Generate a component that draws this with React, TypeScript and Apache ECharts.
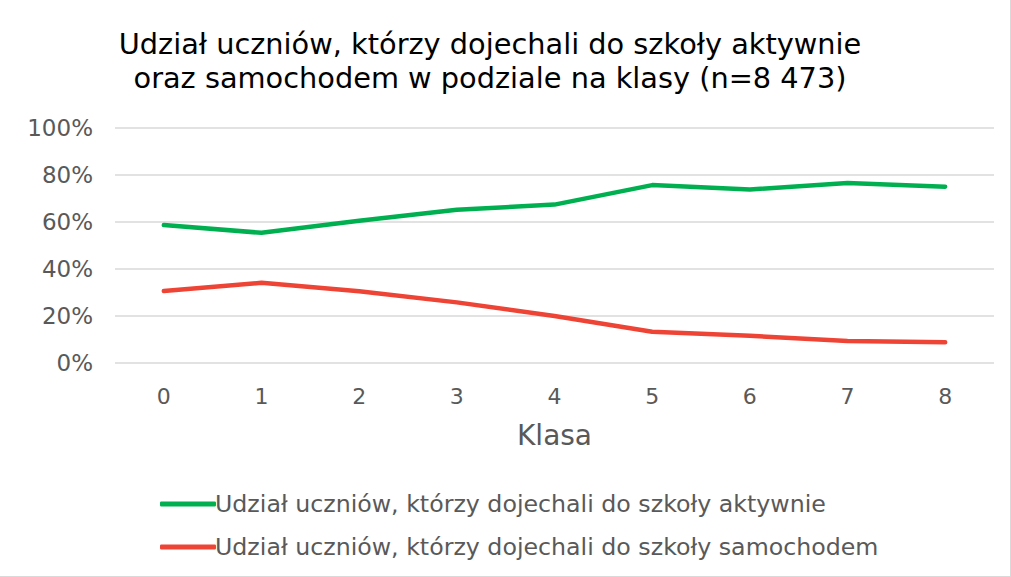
import React, { useEffect, useRef } from "react";
import * as echarts from "echarts";

const categories = ["0", "1", "2", "3", "4", "5", "6", "7", "8"];
const activeShare = [58.7, 55.4, 60.5, 65.2, 67.4, 75.7, 73.8, 76.6, 75.0];
const carShare = [30.6, 34.1, 30.5, 25.8, 20.0, 13.3, 11.6, 9.4, 8.8];
const seriesNames = [
  "Udział uczniów, którzy dojechali do szkoły aktywnie",
  "Udział uczniów, którzy dojechali do szkoły samochodem",
];
const titleText = "Udział uczniów, którzy dojechali do szkoły aktywnie\noraz samochodem w podziale na klasy (n=8 473)";

export default function App() {
  const ref = useRef<HTMLDivElement>(null);
  useEffect(() => {
    if (!ref.current) return;
    const chart = echarts.init(ref.current, undefined, { renderer: "svg" });
    const font = "'DejaVu Sans', sans-serif";
    chart.setOption({
      animation: false,
      backgroundColor: "#ffffff",
      textStyle: { fontFamily: font },
      title: {
        text: titleText,
        left: 485,
        top: 22,
        textAlign: "center",
        textStyle: {
          fontFamily: font,
          fontSize: 28.8,
          lineHeight: 34,
          fontWeight: "normal",
          color: "#000000",
        },
      },
      legend: {
        orient: "vertical",
        left: 155,
        top: 487,
        itemWidth: 56,
        itemHeight: 5,
        itemGap: 19,
        icon: "roundRect",
        textStyle: { fontFamily: font, fontSize: 23.7, color: "#595959", padding: [0, 0, 0, -6] },
        data: seriesNames,
      },
      grid: { left: 115, right: 16, top: 128, bottom: 213 },
      xAxis: {
        type: "category",
        data: categories,
        boundaryGap: true,
        axisLine: { show: false },
        axisTick: { show: false },
        axisLabel: { fontFamily: font, fontSize: 22, color: "#595959", margin: 22 },
        name: "Klasa",
        nameLocation: "middle",
        nameGap: 58,
        nameTextStyle: { fontFamily: font, fontSize: 28, color: "#595959" },
      },
      yAxis: {
        type: "value",
        min: 0,
        max: 100,
        interval: 20,
        axisLine: { show: false },
        axisTick: { show: false },
        axisLabel: {
          fontFamily: font,
          fontSize: 23,
          color: "#595959",
          margin: 22,
          formatter: "{value}%",
        },
        splitLine: { lineStyle: { color: "#d9d9d9", width: 1.5 } },
      },
      series: [
        {
          name: seriesNames[0],
          type: "line",
          data: activeShare,
          symbol: "none",
          lineStyle: { color: "#00B050", width: 4.5, cap: "round", join: "round" },
          itemStyle: { color: "#00B050" },
        },
        {
          name: seriesNames[1],
          type: "line",
          data: carShare,
          symbol: "none",
          lineStyle: { color: "#EE4436", width: 4.5, cap: "round", join: "round" },
          itemStyle: { color: "#EE4436" },
        },
      ],
    });
    return () => chart.dispose();
  }, []);
  return (
    <div
      style={{
        position: "fixed",
        left: 0,
        top: 0,
        width: 1011,
        height: 577,
        boxSizing: "border-box",
        borderRight: "1px solid #d9d9d9",
        borderBottom: "1px solid #d9d9d9",
        background: "#fff",
      }}
    >
      <div ref={ref} style={{ width: 1010, height: 576 }} />
    </div>
  );
}
